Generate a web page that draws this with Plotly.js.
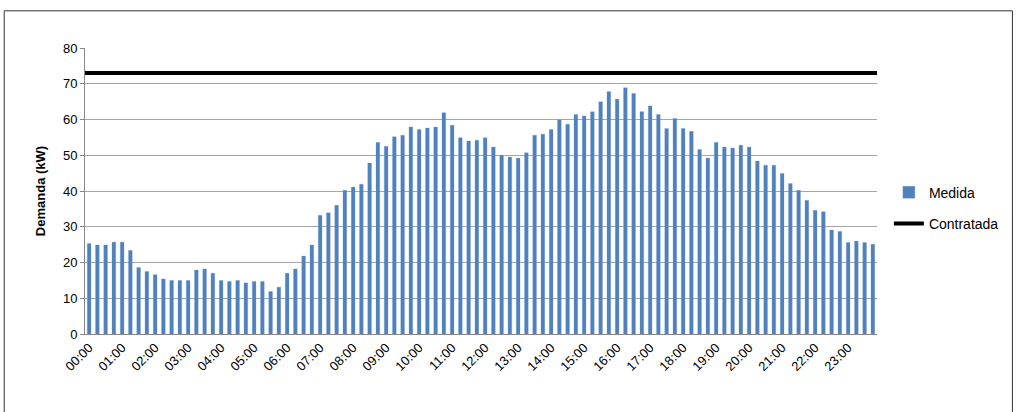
<!DOCTYPE html>
<html>
<head>
<meta charset="utf-8">
<script src="https://cdn.plot.ly/plotly-3.0.1.min.js"></script>
<style>
  body { margin: 0; background: #fff; }
  #chart { width: 1016px; height: 412px; }
</style>
</head>
<body>
<div id="chart"></div>
<script>
// Demanda medida (kW), uma barra por intervalo de 15 min
const medida = [
  25.3, 24.9, 24.9, 25.7, 25.7, 23.4, 18.6, 17.5, 16.6, 15.4,
  15.0, 15.0, 15.0, 17.9, 18.2, 17.0, 15.0, 14.7, 15.0, 14.3,
  14.7, 14.7, 11.9, 13.1, 17.0, 18.2, 21.8, 24.9, 33.2, 33.9,
  36.0, 40.2, 41.1, 41.9, 47.8, 53.6, 52.5, 55.2, 55.6, 57.9,
  57.2, 57.6, 57.9, 61.9, 58.4, 54.9, 54.0, 54.2, 54.9, 52.3,
  50.0, 49.5, 49.2, 50.7, 55.6, 55.9, 57.2, 59.9, 58.7, 61.4,
  61.0, 62.2, 65.0, 67.8, 65.7, 68.9, 67.3, 62.2, 63.8, 61.4,
  57.5, 60.3, 57.5, 56.7, 51.6, 49.2, 53.6, 52.3, 52.0, 52.8,
  52.3, 48.4, 47.2, 47.2, 44.9, 42.1, 40.2, 37.4, 34.6, 34.2,
  29.1, 28.7, 25.6, 26.0, 25.6, 25.1
];
const contratada = 73;
const horas = ['00:00','01:00','02:00','03:00','04:00','05:00','06:00','07:00',
  '08:00','09:00','10:00','11:00','12:00','13:00','14:00','15:00','16:00',
  '17:00','18:00','19:00','20:00','21:00','22:00','23:00'];

const idx = medida.map((v, i) => i);
const perHour = medida.length / 24;

const traces = [
  {
    x: idx, y: medida, type: 'bar', name: 'Medida', legendgroup: 'a',
    marker: { color: '#4f81bd', line: { color: '#6d98cc', width: 0.3 } },
    width: 0.45
  },
  {
    x: [-0.5, medida.length - 0.5], y: [contratada, contratada], legendgroup: 'b',
    type: 'scatter', mode: 'lines', name: 'Contratada',
    line: { color: '#000', width: 4 }
  }
];

const layout = {
  width: 1016, height: 412,
  margin: { l: 85, r: 139, t: 48, b: 78 },
  paper_bgcolor: '#fff', plot_bgcolor: '#fff',
  font: { family: 'Liberation Sans, Arial, sans-serif', size: 12, color: '#000' },
  showlegend: true,
  legend: { x: 1.015, y: 0.44, yanchor: 'middle', font: { size: 14 }, tracegroupgap: 10, traceorder: 'grouped' },
  xaxis: {
    range: [-0.5, medida.length - 0.5],
    tickmode: 'array',
    tickvals: horas.map((h, k) => k * perHour),
    ticktext: horas,
    tickangle: -45,
    showgrid: false, zeroline: false,
    showline: true, linecolor: '#888',
    ticks: '', tickfont: { size: 13 }
  },
  yaxis: {
    range: [0, 80], dtick: 10,
    title: { text: 'Demanda (kW)', font: { size: 13, weight: 'bold' }, standoff: 14 },
    showgrid: true, gridcolor: '#a6a6a6', gridwidth: 1,
    zeroline: false, showline: true, linecolor: '#888',
    ticks: 'outside', ticklen: 4, tickcolor: '#888', tickfont: { size: 13 }
  },
  shapes: [{
    type: 'rect', xref: 'paper', yref: 'paper',
    x0: -0.102, x1: 1.171, y0: -0.3, y1: 1.13,
    line: { color: '#333', width: 1 }
  }]
};

Plotly.newPlot('chart', traces, layout, { displayModeBar: false, staticPlot: true });
</script>
</body>
</html>
